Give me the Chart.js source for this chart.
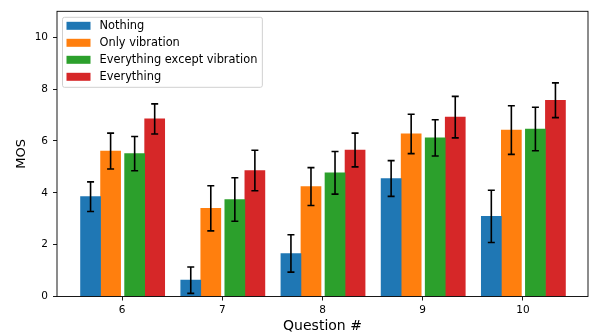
<!DOCTYPE html>
<html>
<head>
<meta charset="utf-8">
<script src="https://cdn.jsdelivr.net/npm/chart.js@4.4.1/dist/chart.umd.min.js"></script>
<style>
  body { margin: 0; background: #fff; }
  #wrap { width: 590px; height: 335px; position: relative; }
</style>
</head>
<body>
<div id="wrap"><canvas id="mosChart"></canvas></div>
<script>
"use strict";

// data
const questions = [6, 7, 8, 9, 10];
const yTicks = [0, 2, 4, 6, 8, 10];
const seriesNames = ["Nothing", "Only vibration", "Everything except vibration", "Everything"];

const nothingMean = [3.85, 0.63, 1.66, 4.55, 3.09];
const nothingErr = [0.57, 0.51, 0.72, 0.69, 1.01];
const onlyVibMean = [5.61, 3.40, 4.24, 6.27, 6.42];
const onlyVibErr = [0.69, 0.87, 0.73, 0.76, 0.94];
const exceptVibMean = [5.51, 3.74, 4.77, 6.12, 6.46];
const exceptVibErr = [0.66, 0.84, 0.82, 0.70, 0.84];
const everythingMean = [6.85, 4.86, 5.65, 6.92, 7.57];
const everythingErr = [0.58, 0.78, 0.65, 0.80, 0.67];

const colors = ["#1f77b4", "#ff7f0e", "#2ca02c", "#d62728"];
// bar centre shift from the question position
const barShift = [-0.315, -0.115, 0.125, 0.325];
const FONT = "'DejaVu Sans', sans-serif";

const means = [nothingMean, onlyVibMean, exceptVibMean, everythingMean];
const errs = [nothingErr, onlyVibErr, exceptVibErr, everythingErr];

const datasets = seriesNames.map((name, i) => ({
  label: name,
  data: questions.map((q, j) => ({ x: q + barShift[i], y: means[i][j] })),
  errors: errs[i],
  backgroundColor: colors[i],
  borderWidth: 0,
  grouped: false,
  categoryPercentage: 1,
  barPercentage: 1,
}));

const errorBars = {
  id: "errorBars",
  afterDatasetsDraw(chart) {
    const ctx = chart.ctx;
    const yScale = chart.scales.y;
    ctx.save();
    ctx.strokeStyle = "#000";
    ctx.lineWidth = 1.6;
    chart.data.datasets.forEach((ds, i) => {
      const meta = chart.getDatasetMeta(i);
      meta.data.forEach((bar, j) => {
        const v = ds.data[j].y;
        const e = ds.errors[j];
        const top = yScale.getPixelForValue(v + e);
        const bot = yScale.getPixelForValue(v - e);
        ctx.beginPath();
        ctx.moveTo(bar.x, top);
        ctx.lineTo(bar.x, bot);
        ctx.moveTo(bar.x - 3.5, top);
        ctx.lineTo(bar.x + 3.5, top);
        ctx.moveTo(bar.x - 3.5, bot);
        ctx.lineTo(bar.x + 3.5, bot);
        ctx.stroke();
      });
    });
    // frame around the plot
    const a = chart.chartArea;
    ctx.strokeStyle = "#000";
    ctx.lineWidth = 0.9;
    ctx.strokeRect(a.left, a.top, a.right - a.left, a.bottom - a.top);
    ctx.restore();
  },
};

const boxLegend = {
  id: "boxLegend",
  afterDraw(chart) {
    const ctx = chart.ctx;
    const a = chart.chartArea;
    const x0 = a.left + 5.5, y0 = a.top + 6;
    ctx.save();
    ctx.font = "11.4px " + FONT;
    let w = 0;
    chart.data.datasets.forEach((ds) => { w = Math.max(w, ctx.measureText(ds.label).width); });
    const boxW = 37 + w + 5, boxH = 70;
    ctx.fillStyle = "rgba(255,255,255,0.8)";
    ctx.strokeStyle = "#d0d0d0";
    ctx.lineWidth = 1;
    ctx.beginPath();
    ctx.roundRect(x0, y0, boxW, boxH, 2);
    ctx.fill();
    ctx.stroke();
    ctx.textBaseline = "middle";
    chart.data.datasets.forEach((ds, i) => {
      const cy = y0 + 8.5 + i * 17;
      ctx.fillStyle = ds.backgroundColor;
      ctx.fillRect(x0 + 4, cy - 4, 24, 8);
      ctx.fillStyle = "#000";
      ctx.fillText(ds.label, x0 + 37, cy + 0.5);
    });
    ctx.restore();
  },
};

new Chart(document.getElementById("mosChart"), {
  type: "bar",
  data: { datasets },
  options: {
    responsive: true,
    maintainAspectRatio: false,
    animation: false,
    layout: { padding: { top: 10, right: 2, left: 0, bottom: 0 } },
    plugins: {
      legend: { display: false },
      tooltip: { enabled: false },
    },
    scales: {
      x: {
        type: "linear",
        offset: false,
        min: 5.35,
        max: 10.65,
        afterBuildTicks: (scale) => { scale.ticks = questions.map((q) => ({ value: q })); },
        afterFit: (scale) => { scale.height = 38.5; },
        ticks: { color: "#000", font: { family: FONT, size: 10.5 }, padding: 3, maxRotation: 0 },
        grid: { offset: false, drawOnChartArea: false, drawTicks: true, tickLength: 4, color: "#000", lineWidth: 0.9 },
        border: { display: false },
        title: { display: true, text: "Question #", color: "#000", font: { family: FONT, size: 14 }, padding: { top: 0, bottom: 0 } },
      },
      y: {
        min: 0,
        max: 11,
        afterBuildTicks: (scale) => { scale.ticks = yTicks.map((v) => ({ value: v })); },
        afterFit: (scale) => { scale.width = 57; },
        ticks: { color: "#000", font: { family: FONT, size: 10.5 }, padding: 5 },
        grid: { drawOnChartArea: false, drawTicks: true, tickLength: 4, color: "#000", lineWidth: 0.9 },
        border: { display: false },
        title: { display: true, text: "MOS", color: "#000", font: { family: FONT, size: 13 }, padding: { top: 14, bottom: 0 } },
      },
    },
  },
  plugins: [errorBars, boxLegend],
});
</script>
</body>
</html>
